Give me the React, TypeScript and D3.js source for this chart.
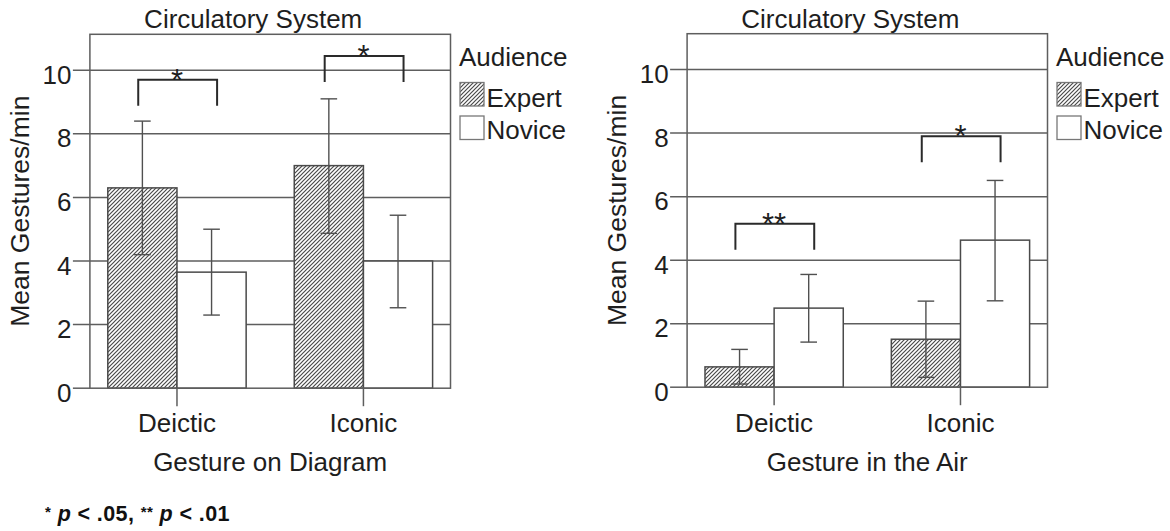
import React from "react";
import * as d3 from "d3";

// ---------- data ----------
const categories = ["Deictic", "Iconic"];
const audiences = ["Expert", "Novice"];
const yTicks = [0, 2, 4, 6, 8, 10];

// Gesture on Diagram
const diagramExpert = [6.3, 7.0];
const diagramNovice = [3.65, 4.0];
const diagramExpertLo = [4.2, 4.87];
const diagramExpertHi = [8.4, 9.1];
const diagramNoviceLo = [2.3, 2.53];
const diagramNoviceHi = [5.0, 5.44];
const diagramBracketTop = [9.7, 10.45];
const diagramStars = ["*", "*"];

// Gesture in the Air
const airExpert = [0.64, 1.51];
const airNovice = [2.49, 4.63];
const airExpertLo = [0.1, 0.31];
const airExpertHi = [1.19, 2.71];
const airNoviceLo = [1.42, 2.72];
const airNoviceHi = [3.55, 6.51];
const airBracketTop = [5.15, 7.9];
const airStars = ["**", "*"];

const FONT = "'Liberation Sans', Arial, Helvetica, sans-serif";
const TXT = "#1e1e1e";
const LINE = "#5e5e5e";

const panels = [
  {
    title: "Circulatory System",
    xTitle: "Gesture on Diagram",
    expert: diagramExpert,
    novice: diagramNovice,
    expertLo: diagramExpertLo,
    expertHi: diagramExpertHi,
    noviceLo: diagramNoviceLo,
    noviceHi: diagramNoviceHi,
    bracketTop: diagramBracketTop,
    stars: diagramStars,
    left: 89.9,
    right: 450.5,
    top: 34.3,
    bottom: 388.2,
  },
  {
    title: "Circulatory System",
    xTitle: "Gesture in the Air",
    expert: airExpert,
    novice: airNovice,
    expertLo: airExpertLo,
    expertHi: airExpertHi,
    noviceLo: airNoviceLo,
    noviceHi: airNoviceHi,
    bracketTop: airBracketTop,
    stars: airStars,
    left: 687.1,
    right: 1047.5,
    top: 33.7,
    bottom: 387.2,
  },
];

type PanelCfg = (typeof panels)[number];

function Panel({ p }: { p: PanelCfg }) {
  const width = p.right - p.left;
  const x0 = d3
    .scaleBand<string>()
    .domain(categories)
    .range([p.left, p.right])
    .paddingInner(0.258)
    .paddingOuter(0.096);
  const x1 = d3
    .scaleBand<string>()
    .domain(audiences)
    .range([0, x0.bandwidth()])
    .padding(0);
  const y = d3.scaleLinear().domain([0, 11.13]).range([p.bottom, p.top]);
  const cx = (p.left + p.right) / 2;
  const cy = (p.top + p.bottom) / 2;

  const series = [
    { key: "Expert", vals: p.expert, lo: p.expertLo, hi: p.expertHi, fill: "url(#hatch)" },
    { key: "Novice", vals: p.novice, lo: p.noviceLo, hi: p.noviceHi, fill: "#fff" },
  ];
  const capHalf = 8.3;

  return (
    <g>
      {/* title */}
      <text
        x={cx - 17}
        y={28.3}
        textAnchor="middle"
        fontSize={26}
        fontFamily={FONT}
        fill={TXT}
      >
        {p.title}
      </text>
      {/* plot background */}
      <rect x={p.left} y={p.top} width={width} height={p.bottom - p.top} fill="#fff" />
      {/* grid lines + y ticks */}
      {yTicks.map((t) => (
        <g key={t}>
          <line
            x1={p.left - 17}
            x2={t === 0 ? p.left : p.right}
            y1={y(t)}
            y2={y(t)}
            stroke={LINE}
            strokeWidth={1.5}
          />
          <text
            x={p.left - 18.5}
            y={y(t) + 13.5}
            textAnchor="end"
            fontSize={26}
            fontFamily={FONT}
            fill={TXT}
          >
            {t}
          </text>
        </g>
      ))}
      {/* bars */}
      {categories.map((c, i) =>
        series.map((s) => (
          <rect
            key={c + s.key}
            x={(x0(c) as number) + (x1(s.key) as number)}
            y={y(s.vals[i])}
            width={x1.bandwidth()}
            height={y(0) - y(s.vals[i])}
            fill={s.fill}
            stroke="#4a4a4a"
            strokeWidth={1.5}
          />
        ))
      )}
      {/* error bars */}
      {categories.map((c, i) =>
        series.map((s) => {
          const ex = (x0(c) as number) + (x1(s.key) as number) + x1.bandwidth() / 2;
          return (
            <g key={"e" + c + s.key} stroke="#505050" strokeWidth={1.4}>
              <line x1={ex} x2={ex} y1={y(s.hi[i])} y2={y(s.lo[i])} />
              <line x1={ex - capHalf} x2={ex + capHalf} y1={y(s.hi[i])} y2={y(s.hi[i])} />
              <line x1={ex - capHalf} x2={ex + capHalf} y1={y(s.lo[i])} y2={y(s.lo[i])} />
            </g>
          );
        })
      )}
      {/* significance brackets */}
      {categories.map((c, i) => {
        const bx = x0(c) as number;
        const bw = x0.bandwidth();
        const xa = bx + bw * 0.22;
        const xb = bx + bw * 0.79;
        const yt = y(p.bracketTop[i]);
        const yb = yt + 26;
        return (
          <g key={"b" + c}>
            <path
              d={`M${xa},${yb} V${yt} H${xb} V${yb}`}
              fill="none"
              stroke="#2a2a2a"
              strokeWidth={2}
            />
            <text
              x={bx + bw / 2}
              y={yt + 11}
              textAnchor="middle"
              fontSize={31}
              fontFamily={FONT}
              fill={TXT}
            >
              {p.stars[i]}
            </text>
          </g>
        );
      })}
      {/* frame */}
      <rect
        x={p.left}
        y={p.top}
        width={width}
        height={p.bottom - p.top}
        fill="none"
        stroke={LINE}
        strokeWidth={1.5}
      />
      {/* category ticks + labels */}
      {categories.map((c) => {
        const tx = (x0(c) as number) + x0.bandwidth() / 2;
        return (
          <g key={"t" + c}>
            <line x1={tx} x2={tx} y1={p.bottom} y2={p.bottom + 18} stroke={LINE} strokeWidth={1.5} />
            <text
              x={tx}
              y={431.7}
              textAnchor="middle"
              fontSize={26}
              fontFamily={FONT}
              fill={TXT}
            >
              {c}
            </text>
          </g>
        );
      })}
      {/* axis titles */}
      <text
        x={cx}
        y={471}
        textAnchor="middle"
        fontSize={26}
        fontFamily={FONT}
        fill={TXT}
      >
        {p.xTitle}
      </text>
      <text
        transform={`translate(${p.left - 61},${cy}) rotate(-90)`}
        textAnchor="middle"
        fontSize={26.5}
        fontFamily={FONT}
        fill={TXT}
      >
        Mean Gestures/min
      </text>
      {/* legend */}
      <g>
        <text x={p.right + 8.5} y={66} fontSize={26} fontFamily={FONT} fill={TXT}>
          Audience
        </text>
        {audiences.map((a, k) => (
          <g key={"l" + a}>
            <rect
              x={p.right + 9.5}
              y={82.5 + k * 33.5}
              width={24}
              height={23.5}
              fill={a === "Expert" ? "url(#hatch)" : "#fff"}
              stroke="#777"
              strokeWidth={1.3}
            />
            <text
              x={p.right + 36}
              y={106.7 + k * 32.5}
              fontSize={26}
              fontFamily={FONT}
              fill={TXT}
            >
              {a}
            </text>
          </g>
        ))}
      </g>
    </g>
  );
}

export default function App() {
  return (
    <svg
      width={1170}
      height={531}
      style={{ position: "absolute", left: 0, top: 0, background: "#fff" }}
    >
      <defs>
        <pattern id="hatch" patternUnits="userSpaceOnUse" width={4} height={4}>
          <rect width={4} height={4} fill="#fff" />
          <path d="M-1,1 L1,-1 M0,4 L4,0 M3,5 L5,3" stroke="#4a4a4a" strokeWidth={1.2} />
        </pattern>
      </defs>
      {panels.map((p, i) => (
        <Panel key={i} p={p} />
      ))}
      <text
        x={45}
        y={521}
        fontSize={21.5}
        fontWeight="bold"
        fontFamily={FONT}
        fill="#111"
        letterSpacing={0.4}
      >
        <tspan fontSize={15} dy={-4}>*</tspan>
        <tspan dy={4}> </tspan>
        <tspan fontStyle="italic">p</tspan>
        <tspan> &lt; .05, </tspan>
        <tspan fontSize={15} dy={-4}>**</tspan>
        <tspan dy={4}> </tspan>
        <tspan fontStyle="italic">p</tspan>
        <tspan> &lt; .01</tspan>
      </text>
    </svg>
  );
}
